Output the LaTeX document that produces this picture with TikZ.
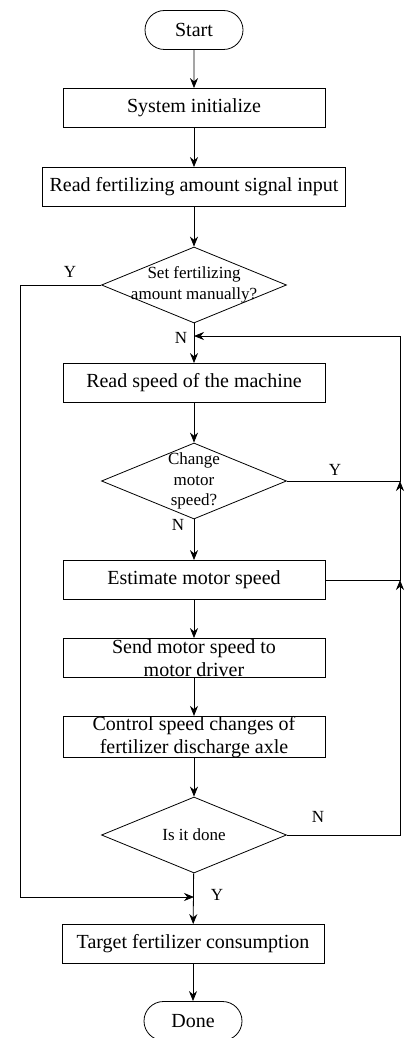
\documentclass[tikz,border=0pt]{standalone}
\usepackage{fontspec}
\setmainfont{Liberation Serif}
\usetikzlibrary{shapes.geometric,shapes.misc,arrows.meta}

\begin{document}
\begin{tikzpicture}[x=1pt,y=-1pt,line width=0.8pt,
		proc/.style={draw,rectangle,minimum width=262pt,minimum height=39pt,inner sep=0pt,align=center,font=\fontsize{20}{23}\selectfont},
		term/.style={draw,rounded rectangle,minimum width=98pt,minimum height=39pt,inner sep=0pt,font=\fontsize{20}{23}\selectfont},
		decide/.style={draw,diamond,minimum width=185pt,minimum height=76pt,inner sep=0pt},
		dtext/.style={align=center,font=\fontsize{17}{20.5}\selectfont},
		yn/.style={font=\fontsize{17}{20}\selectfont},
		flow/.style={-{Stealth[length=10pt,width=8pt]}}]
	\useasboundingbox (0,0) rectangle (404,1038);
	% main column
	\node[term] (start) at (194,30) {Start};
	\node[proc] (init) at (194,108) {System initialize};
	\node[proc,minimum width=303pt] (readin) at (194,187) {Read fertilizing amount signal input};
	\node[decide,label={[dtext]center:Set fertilizing\\amount manually?}] (manual) at (194,285) {};
	\node[proc] (speed) at (194,383) {Read speed of the machine};
	\node[decide,label={[dtext]center:Change\\motor\\speed?}] (change) at (194,481) {};
	\node[proc] (estim) at (194,580) {Estimate motor speed};
	\node[proc] (send) at (194,658) {Send motor speed to\\motor driver};
	\node[proc] (ctrl) at (194,737) {Control speed changes of\\fertilizer discharge axle};
	\node[decide,label={[dtext]center:Is it done}] (isdone) at (194,835) {};
	\node[proc] (target) at (193,944) {Target fertilizer consumption};
	\node[term] (stop) at (193,1021) {Done};
	% side lines
	\coordinate (loopin) at (194,336);
	\coordinate (rtop) at (400,336);
	\coordinate (rup) at (400,481);
	\coordinate (rmid) at (400,580);
	\coordinate (rbot) at (400,835);
	\coordinate (ltop) at (20,285);
	\coordinate (lbot) at (20,897);
	\coordinate (yjoin) at (194,897);
	\draw[flow] (start) -- (init);
	\draw[flow] (init) -- (readin);
	\draw[flow] (readin) -- (manual);
	\draw[flow] (manual) -- (speed);
	\draw[flow] (speed) -- (change);
	\draw[flow] (change) -- (estim);
	\draw[flow] (estim) -- (send);
	\draw[flow] (send) -- (ctrl);
	\draw[flow] (ctrl) -- (isdone);
	\draw[flow] (isdone) -- (target);
	\draw[flow] (target) -- (stop);
	\draw[flow] (isdone.east) -- (rbot) -- (rmid);
	\draw[flow] (estim.east) -- (rmid) -- (rup);
	\draw[flow] (change.east) -- (rup) -- (rtop) -- (loopin);
	\draw[flow] (manual.west) -- (ltop) -- (lbot) -- (yjoin);
	% labels
	\node[yn] (y1) at (70,272) {Y};
	\node[yn] (n1) at (181,338) {N};
	\node[yn] (y2) at (335,470) {Y};
	\node[yn] (n2) at (178,525) {N};
	\node[yn] (n3) at (318,817) {N};
	\node[yn] (y3) at (217,895) {Y};
\end{tikzpicture}
\end{document}
